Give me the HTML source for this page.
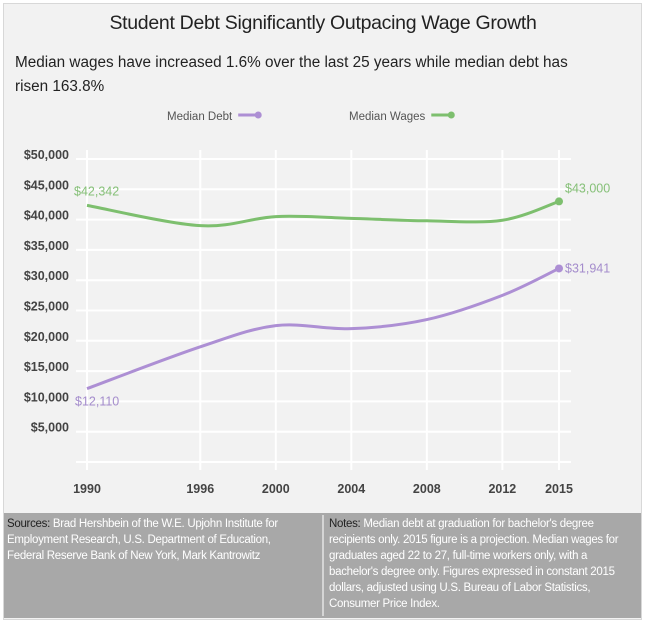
<!DOCTYPE html>
<html><head><meta charset="utf-8"><style>
html,body{margin:0;padding:0;background:#fff;}
#wrap{position:relative;width:646px;height:622px;overflow:hidden;font-family:"Liberation Sans",sans-serif;}
#frame{position:absolute;left:3px;top:3px;width:637px;height:615px;background:#f2f2f2;border:1px solid #d8d8d8;}
#title{position:absolute;left:0;width:646px;top:12px;text-align:center;font-size:19.5px;color:#222;letter-spacing:-0.3px;}
#sub{position:absolute;left:15px;top:51px;width:570px;font-size:15.3px;line-height:24px;color:#222;letter-spacing:0px;}
#footer{position:absolute;left:4px;top:513px;width:637px;height:105px;background:#a8a8a8;color:#fff;font-size:11.5px;line-height:16px;letter-spacing:-0.3px;}
#footer .col{position:absolute;top:3px;}
#footer b{font-weight:normal;color:#222;}
#div{position:absolute;left:318px;top:2px;width:2px;height:101px;background:#d5d5d5;}
svg{position:absolute;left:0;top:0;}
</style></head><body>
<div id="wrap">
<div id="frame"></div>
<div id="title">Student Debt Significantly Outpacing Wage Growth</div>
<div id="sub">Median wages have increased 1.6% over the last 25 years while median debt has risen 163.8%</div>
<svg id="chart" width="646" height="622"></svg>
<div id="footer">
<div class="col" style="left:3px;width:290px;"><b>Sources:</b> Brad Hershbein of the W.E. Upjohn Institute for Employment Research, U.S. Department of Education, Federal Reserve Bank of New York, Mark Kantrowitz</div>
<div id="div"></div>
<div class="col" style="left:325px;width:290px;"><b>Notes:</b> Median debt at graduation for bachelor's degree recipients only. 2015 figure is a projection. Median wages for graduates aged 22 to 27, full-time workers only, with a bachelor's degree only. Figures expressed in constant 2015 dollars, adjusted using U.S. Bureau of Labor Statistics, Consumer Price Index.</div>
</div>
</div>
<script>
const years = [1990, 1996, 2000, 2004, 2008, 2012, 2015];
const wages = [42342, 39000, 40500, 40200, 39800, 39900, 43000];
const debt = [12110, 19000, 22500, 22000, 23500, 27500, 31941];
const yTicks = [5000, 10000, 15000, 20000, 25000, 30000, 35000, 40000, 45000, 50000];
const yTickLabels = ["$5,000","$10,000","$15,000","$20,000","$25,000","$30,000","$35,000","$40,000","$45,000","$50,000"];

const NS = "http://www.w3.org/2000/svg";
const svg = document.getElementById('chart');
const x = v => 87 + (v - 1990) * (559 - 87) / 25;
const y = v => 462 - v * (462 - 159) / 50000;
function mk(tag, attrs){const e=document.createElementNS(NS,tag);for(const k in attrs)e.setAttribute(k,attrs[k]);svg.appendChild(e);return e;}

[0].concat(yTicks).forEach(t=>{
  const l=mk('line',{x1:76,x2:571,y1:y(t),y2:y(t),stroke:'#fff','stroke-width':2});
  
  
});
years.forEach(yr=>{
  const l=mk('line',{x1:x(yr),x2:x(yr),y1:150,y2:470,stroke:'#fff','stroke-width':2});
  
  
  const t=mk('text',{x:x(yr),y:493,'text-anchor':'middle','font-size':12.5,'font-weight':'bold',fill:'#444'});
  t.textContent=yr;
  
  
});
yTicks.forEach((t,i)=>{
  const e=mk('text',{x:69,y:y(t)-0,'text-anchor':'end','font-size':12.5,'font-weight':'bold',fill:'#444'});
  e.textContent=yTickLabels[i];
  
  
});

function path(vals){
  const p=vals.map((v,i)=>[x(years[i]),y(v)]);
  let d='M'+p[0][0]+','+p[0][1];
  for(let i=0;i<p.length-1;i++){
    const p0=p[i-1]||p[i],p1=p[i],p2=p[i+1],p3=p[i+2]||p2;
    const c1=[p1[0]+(p2[0]-p0[0])/6,p1[1]+(p2[1]-p0[1])/6];
    const c2=[p2[0]-(p3[0]-p1[0])/6,p2[1]-(p3[1]-p1[1])/6];
    d+=' C'+c1+' '+c2+' '+p2;
  }
  return d;
}
const wl=mk('path',{d:path(wages),fill:'none',stroke:'#7dbf6e','stroke-width':3});


const dl=mk('path',{d:path(debt),fill:'none',stroke:'#ad8fd4','stroke-width':3});


const n=years.length-1;
const wd=mk('circle',{cx:x(years[n]),cy:y(wages[n]),r:4,fill:'#7dbf6e'});


const dd=mk('circle',{cx:x(years[n]),cy:y(debt[n]),r:4,fill:'#ad8fd4'});


const fmt=v=>'$'+v.toLocaleString('en-US');
function lab(tx,ty,txt,col,name){const t=mk('text',{x:tx,y:ty,'font-size':12.5,fill:col});t.textContent=txt;}
lab(x(1990)-13,y(wages[0])-10,fmt(wages[0]),'#86c078','wages-start-label');
lab(x(2015)+6,y(wages[n])-9,fmt(wages[n]),'#86c078','wages-end-label');
lab(x(1990)-12,y(debt[0])+17,fmt(debt[0]),'#a48ccc','debt-start-label');
lab(x(2015)+6,y(debt[n])+4,fmt(debt[n]),'#a48ccc','debt-end-label');

function legend(lx,txt,col,name){
  const g=document.createElementNS(NS,'g');svg.appendChild(g);
  
  
  const t=document.createElementNS(NS,'text');t.setAttribute('x',lx);t.setAttribute('y',120);t.setAttribute('font-size',11.5);t.setAttribute('fill','#555');t.textContent=txt;g.appendChild(t);
  const w=t.getComputedTextLength?t.getComputedTextLength():70;
  const l=document.createElementNS(NS,'line');l.setAttribute('x1',lx+w+6);l.setAttribute('x2',lx+w+24);l.setAttribute('y1',115);l.setAttribute('y2',115);l.setAttribute('stroke',col);l.setAttribute('stroke-width',3);g.appendChild(l);
  const c=document.createElementNS(NS,'circle');c.setAttribute('cx',lx+w+26);c.setAttribute('cy',115);c.setAttribute('r',3.5);c.setAttribute('fill',col);g.appendChild(c);
}
legend(167,'Median Debt','#ad8fd4','legend-debt');
legend(349,'Median Wages','#7dbf6e','legend-wages');
</script>
</body></html>
